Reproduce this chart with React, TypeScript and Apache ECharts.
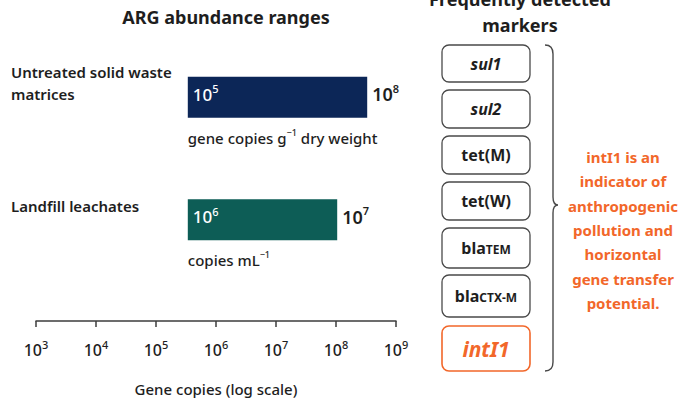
import React, { useEffect, useRef } from "react";
import * as echarts from "echarts";

// ---- data ----
const categories = ["Untreated solid waste\nmatrices", "Landfill leachates"];
// bar extents as drawn, in log10(gene copies) read against the axis
const barStartLog = [5.53, 5.53];
const barEndLog = [8.52, 8.02];
// range labels (exponents of 10) printed on the bars
const lowExp = [5, 6];
const highExp = [8, 7];
// unit labels: [before superscript, superscript, after]
const unitParts = [
  ["gene copies g", "−1", " dry weight"],
  ["copies mL", "−1", ""],
];
const tickExps = [3, 4, 5, 6, 7, 8, 9];
const markers = ["sul1", "sul2", "tet(M)", "tet(W)", "blaTEM", "blaCTX-M", "intI1"];
const noteLines = [
  "intI1 is an",
  "indicator of",
  "anthropogenic",
  "pollution and",
  "horizontal",
  "gene transfer",
  "potential.",
];

const FONT = "'Noto Sans', 'Open Sans', sans-serif";
const BAR_COLORS = ["#0c2657", "#0d5d56"];
const ORANGE = "#f2672a";
const INK = "#1e1e1e";

const markerRich = (m: string): string => {
  if (m === "intI1") return "{o|intI1}";
  if (m.startsWith("sul")) return `{it|${m}}`;
  if (m.startsWith("bla")) return `{b|bla}{sc|${m.slice(3)}}`;
  return `{b|${m}}`;
};

echarts.graphic.registerShape(
  "brace",
  echarts.graphic.extendPath(
    "M0,0 C5,0 8,3 8,9 L8,152 C8,157 10,160 13,160 C10,160 8,163 8,168 L8,317 C8,323 5,326 0,326",
    {}
  )
);

export default function App() {
  const ref = useRef<HTMLDivElement>(null);
  useEffect(() => {
    if (!ref.current) return;
    const chart = echarts.init(ref.current, null, { renderer: "svg" });

    const supRich = (size: number, sup: number, color: string, weight: any) => ({
      b: { fontSize: size, fontWeight: weight, fill: color, color, fontFamily: FONT, lineHeight: size + 5 },
      s: { fontSize: sup, fontWeight: weight, fill: color, color, fontFamily: FONT, lineHeight: sup, verticalAlign: "top" },
    });

    const boxTops = [45, 90, 136, 182, 228, 275, 326];
    const boxHeights = [37, 38, 38, 38, 40, 42, 45];

    const markerGraphics: any[] = [];
    markers.forEach((m, i) => {
      const last = i === markers.length - 1;
      markerGraphics.push({
        type: "rect",
        shape: { x: 442, y: boxTops[i], width: 88, height: boxHeights[i], r: 7 },
        style: { fill: "#fff", stroke: last ? ORANGE : "#4a4a4a", lineWidth: last ? 1.6 : 1.3 },
      });
      markerGraphics.push({
        type: "text",
        x: 486,
        y: boxTops[i] + boxHeights[i] / 2,
        style: {
          text: markerRich(m),
          align: "center",
          verticalAlign: "middle",
          rich: {
            b: { fontSize: 16, fontWeight: 700, fill: INK, fontFamily: FONT },
            it: { fontSize: 16, fontWeight: 700, fontStyle: "italic", fill: INK, fontFamily: FONT },
            sc: { fontSize: 12, fontWeight: 700, fill: INK, fontFamily: FONT, padding: [3, 0, 0, 0] },
            o: { fontSize: 21, fontWeight: 700, fontStyle: "italic", fill: ORANGE, fontFamily: FONT },
          },
        },
      });
    });

    chart.setOption({
      animation: false,
      grid: { left: 36, right: 282, top: 36, bottom: 124 },
      xAxis: {
        type: "value",
        min: 3,
        max: 9,
        interval: 1,
        offset: 40,
        splitLine: { show: false },
        axisLine: { show: true, lineStyle: { color: "#3c3c3c", width: 1.5 } },
        axisTick: { show: true, length: 6, lineStyle: { color: "#3c3c3c", width: 1.5 } },
        axisLabel: {
          margin: 18,
          formatter: (v: number) => (tickExps.includes(v) ? `{b|10}{s|${v}}` : ""),
          rich: supRich(16, 11, INK, 500),
        },
        name: "Gene copies (log scale)",
        nameLocation: "middle",
        nameGap: 60,
        nameTextStyle: { fontSize: 15, fontWeight: 500, color: INK, fontFamily: FONT },
      },
      yAxis: {
        type: "category",
        data: categories,
        inverse: true,
        axisLine: { show: false },
        axisTick: { show: false },
        splitLine: { show: false },
        axisLabel: {
          align: "left",
          margin: 25,
          formatter: (v: string) =>
            v.split("\n").map((l) => `{a|${l}}`).join("\n") + "\n{g| }",
          rich: {
            a: { fontSize: 15, fontWeight: 600, lineHeight: 22, color: INK, fontFamily: FONT },
            g: { fontSize: 10, lineHeight: 28 },
          },
        },
      },
      series: [
        {
          type: "custom",
          coordinateSystem: "cartesian2d",
          encode: { x: [1, 2], y: 0 },
          data: categories.map((c, i) => [i, barStartLog[i], barEndLog[i]]),
          renderItem: (params: any, api: any) => {
            const i = params.dataIndex;
            const p0 = api.coord([api.value(1), api.value(0)]);
            const p1 = api.coord([api.value(2), api.value(0)]);
            const h = 41;
            const cy = p0[1];
            const u = unitParts[i];
            return {
              type: "group",
              children: [
                {
                  type: "rect",
                  shape: { x: p0[0], y: cy - h / 2, width: p1[0] - p0[0], height: h },
                  style: { fill: BAR_COLORS[i] },
                },
                {
                  type: "text",
                  x: p0[0] + 5,
                  y: cy - 3,
                  style: {
                    text: `{b|10}{s|${lowExp[i]}}`,
                    align: "left",
                    verticalAlign: "middle",
                    rich: supRich(17, 11, "#ffffff", 500),
                  },
                },
                {
                  type: "text",
                  x: p1[0] + 5,
                  y: cy - 3,
                  style: {
                    text: `{b|10}{s|${highExp[i]}}`,
                    align: "left",
                    verticalAlign: "middle",
                    rich: supRich(18, 11, INK, 600),
                  },
                },
                {
                  type: "text",
                  x: p0[0],
                  y: cy + h / 2 + 20,
                  style: {
                    text: `{b|${u[0]}}{s|${u[1]}}` + (u[2] ? `{b|${u[2]}}` : ""),
                    align: "left",
                    verticalAlign: "middle",
                    rich: supRich(15, 9, INK, 500),
                  },
                },
              ],
            };
          },
        },
      ],
      graphic: [
        {
          type: "text",
          x: 226,
          y: 17,
          style: {
            text: "ARG abundance ranges",
            align: "center",
            verticalAlign: "middle",
            fontSize: 18,
            fontWeight: 700,
            fill: INK,
            fontFamily: FONT,
          },
        },
        {
          type: "text",
          x: 520,
          y: 12,
          style: {
            text: "Frequently detected\nmarkers",
            align: "center",
            verticalAlign: "middle",
            fontSize: 18,
            fontWeight: 700,
            lineHeight: 26,
            fill: INK,
            fontFamily: FONT,
          },
        },
        ...markerGraphics,
        {
          type: "brace",
          x: 545,
          y: 45,
          style: { fill: "none", stroke: "#4a4a4a", lineWidth: 1.4 },
        },
        {
          type: "text",
          x: 623,
          y: 230,
          style: {
            text: noteLines.join("\n"),
            align: "center",
            verticalAlign: "middle",
            fontSize: 15,
            fontWeight: 700,
            lineHeight: 24.3,
            fill: ORANGE,
            fontFamily: FONT,
          },
        },
      ],
    });
    return () => chart.dispose();
  }, []);
  return (
    <div
      ref={ref}
      style={{ position: "fixed", left: 0, top: 0, width: 678, height: 405, background: "#fff" }}
    />
  );
}
